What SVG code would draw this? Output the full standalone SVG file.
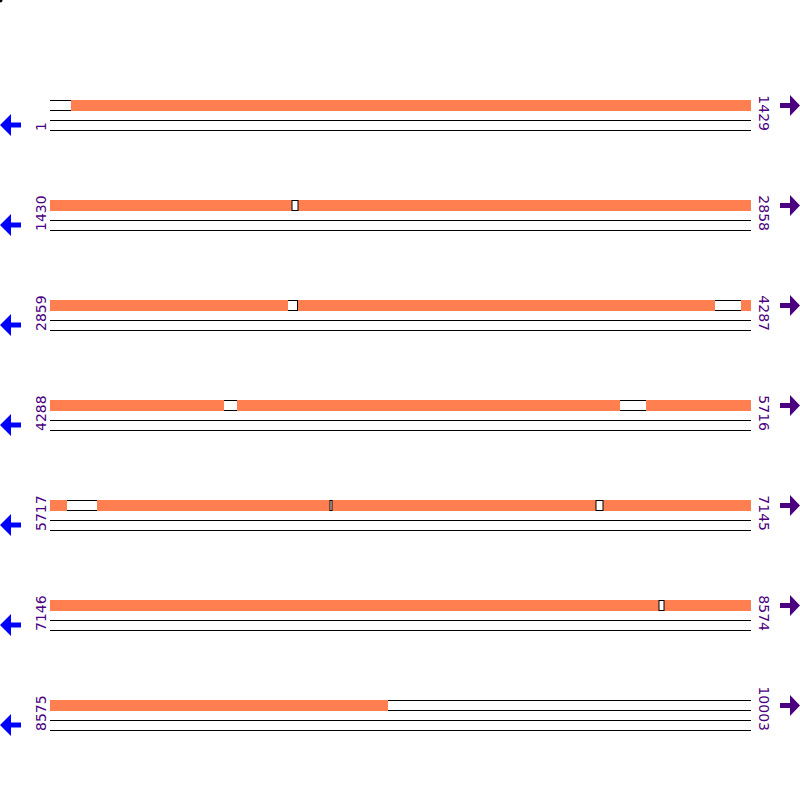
<svg xmlns="http://www.w3.org/2000/svg" width="800" height="800" viewBox="0 0 800 800">
<defs>
<style>
.bar{fill:#ff7f50}
.ln{stroke:#000;stroke-width:1;fill:none}
.gap{fill:#fff;stroke:#000;stroke-width:1}
.num{font-family:"DejaVu Sans",sans-serif;font-size:14px;fill:#4b0082}
.rn{text-anchor:end}
.la{fill:#0000ff}
.ra{fill:#4b0082}
</style>
<g id="row">
<line class="ln" x1="50" y1="100.5" x2="751" y2="100.5"/>
<line class="ln" x1="50" y1="110.5" x2="751" y2="110.5"/>
<line class="ln" x1="50" y1="120.5" x2="751" y2="120.5"/>
<line class="ln" x1="50" y1="130.5" x2="751" y2="130.5"/>
<polygon class="la" points="0,125 11,114 11,122.5 21,122.5 21,127.5 11,127.5 11,136"/>
<polygon class="ra" points="800,105.5 790,95 790,103 780,103 780,108 790,108 790,116"/>
</g>
</defs>
<rect width="800" height="800" fill="#fff"/>
<circle cx="0" cy="0" r="2.5" fill="#000"/>
<g id="connectors"></g>
<g id="row0">
<use href="#row"/>
<rect class="bar" x="71" y="100" width="680" height="11"/>
<text class="num" transform="translate(46,131) rotate(-90)">1</text>
<text class="num rn" transform="translate(759,131) rotate(90)">1429</text>
</g>
<g id="row1" transform="translate(0,100)">
<use href="#row"/>
<rect class="bar" x="50" y="100" width="242" height="11"/>
<rect class="bar" x="298" y="100" width="453" height="11"/>
<rect class="gap" x="292" y="100.5" width="6" height="10"/>
<text class="num" transform="translate(46,131) rotate(-90)">1430</text>
<text class="num rn" transform="translate(759,131) rotate(90)">2858</text>
</g>
<g id="row2" transform="translate(0,200)">
<use href="#row"/>
<rect class="bar" x="50" y="100" width="238" height="11"/>
<rect class="bar" x="298" y="100" width="417" height="11"/>
<rect class="bar" x="741" y="100" width="10" height="11"/>
<line class="ln" x1="297.5" y1="100.5" x2="297.5" y2="110.5"/>
<text class="num" transform="translate(46,131) rotate(-90)">2859</text>
<text class="num rn" transform="translate(759,131) rotate(90)">4287</text>
</g>
<g id="row3" transform="translate(0,300)">
<use href="#row"/>
<rect class="bar" x="50" y="100" width="174" height="11"/>
<rect class="bar" x="237" y="100" width="383" height="11"/>
<rect class="bar" x="646" y="100" width="105" height="11"/>
<text class="num" transform="translate(46,131) rotate(-90)">4288</text>
<text class="num rn" transform="translate(759,131) rotate(90)">5716</text>
</g>
<g id="row4" transform="translate(0,400)">
<use href="#row"/>
<rect class="bar" x="50" y="100" width="17" height="11"/>
<rect class="bar" x="97" y="100" width="233" height="11"/>
<rect class="bar" x="332" y="100" width="264" height="11"/>
<rect class="bar" x="603" y="100" width="148" height="11"/>
<rect class="gap" x="330" y="100.5" width="2" height="10"/>
<rect class="gap" x="596" y="100.5" width="7" height="10"/>
<text class="num" transform="translate(46,131) rotate(-90)">5717</text>
<text class="num rn" transform="translate(759,131) rotate(90)">7145</text>
</g>
<g id="row5" transform="translate(0,500)">
<use href="#row"/>
<rect class="bar" x="50" y="100" width="609" height="11"/>
<rect class="bar" x="664" y="100" width="87" height="11"/>
<rect class="gap" x="659" y="100.5" width="5" height="10"/>
<text class="num" transform="translate(46,131) rotate(-90)">7146</text>
<text class="num rn" transform="translate(759,131) rotate(90)">8574</text>
</g>
<g id="row6" transform="translate(0,600)">
<use href="#row"/>
<rect class="bar" x="50" y="100" width="338" height="11"/>
<text class="num" transform="translate(46,131) rotate(-90)">8575</text>
<text class="num rn" transform="translate(759,131) rotate(90)">10003</text>
</g>
</svg>
